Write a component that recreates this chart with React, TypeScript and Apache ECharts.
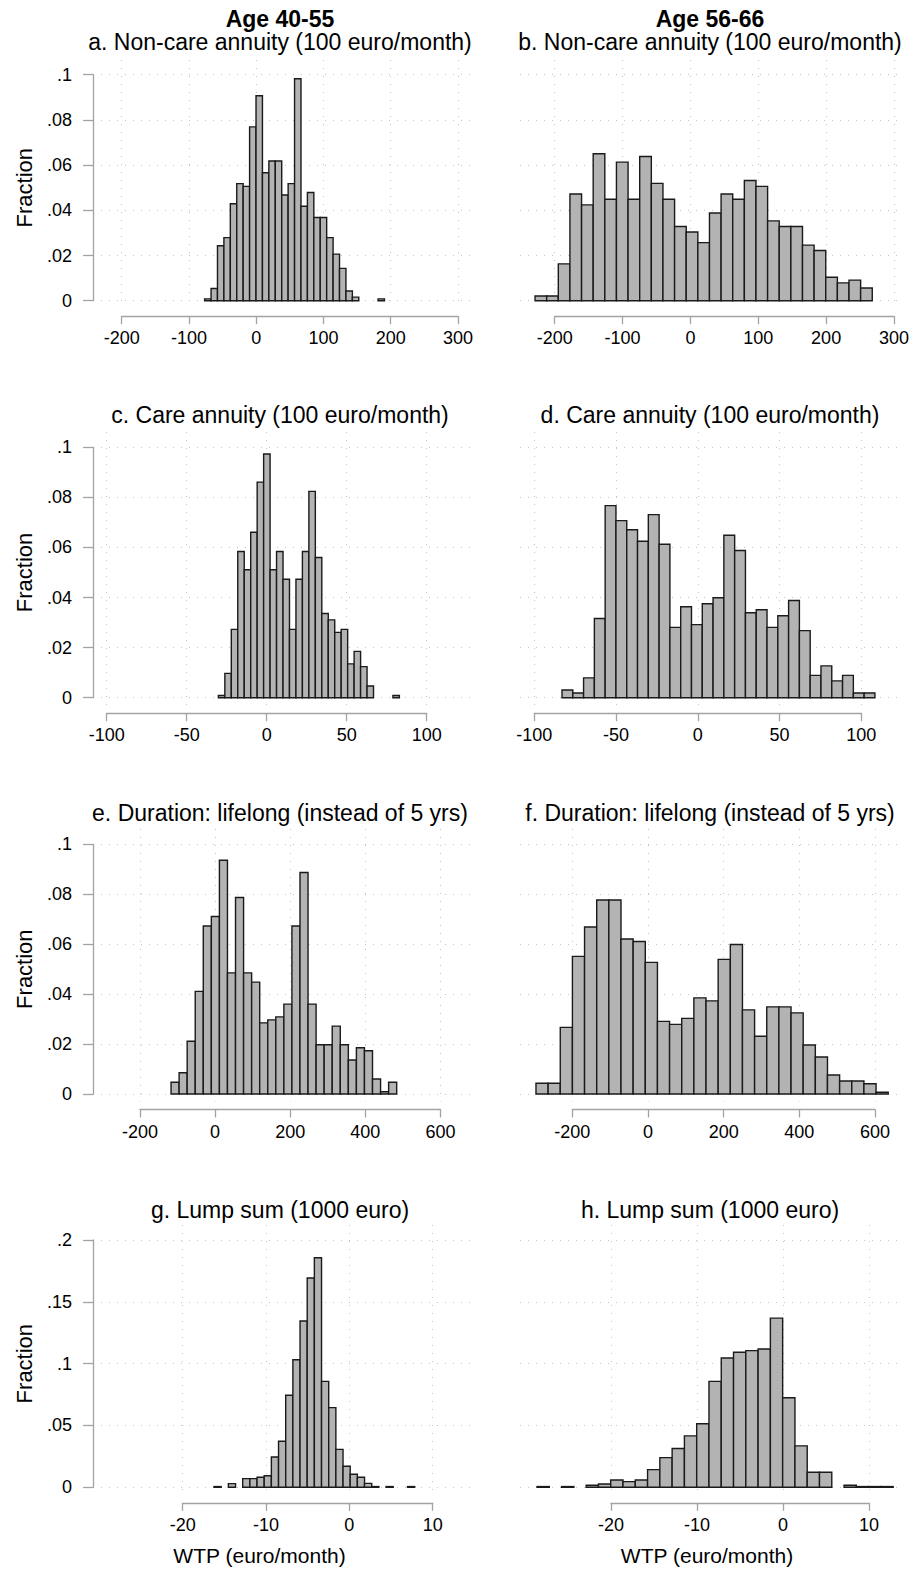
import React, { useEffect, useRef } from "react";
import * as echarts from "echarts";

// ---- Histogram data: left edge of the first bin, bin width, fraction per bin ----
const aStart = -76.7;
const aWidth = 9.55;
const aFractions = [
  0.0008, 0.0054, 0.0243, 0.0279, 0.0429, 0.0518, 0.0506, 0.0769, 0.0907, 0.0566,
  0.0618, 0.0618, 0.0468, 0.0518, 0.0982, 0.0418, 0.0479, 0.0368, 0.0368, 0.0279,
  0.0206, 0.0143, 0.0043, 0.0016, 0, 0, 0, 0.0008,
];

const bStart = -228.9;
const bWidth = 17.1;
const bFractions = [
  0.0021, 0.0021, 0.0163, 0.0472, 0.0424, 0.065, 0.0449, 0.0613, 0.0449, 0.0638,
  0.0519, 0.0449, 0.0328, 0.0304, 0.0257, 0.0388, 0.0472, 0.0449, 0.0532, 0.0506,
  0.0353, 0.0328, 0.0328, 0.0246, 0.0222, 0.0104, 0.0079, 0.0091, 0.0056,
];

const cStart = -30.2;
const cWidth = 4.04;
const cFractions = [
  0.0009, 0.0097, 0.0273, 0.0584, 0.0511, 0.0661, 0.0861, 0.0973, 0.0511, 0.0584,
  0.0473, 0.0273, 0.0473, 0.0584, 0.0824, 0.056, 0.0336, 0.0311, 0.0261, 0.0273,
  0.0135, 0.0185, 0.0124, 0.0047, 0, 0, 0, 0.0009,
];

const dStart = -83.06;
const dWidth = 6.6;
const dFractions = [
  0.0031, 0.0019, 0.0079, 0.0316, 0.0767, 0.0707, 0.0671, 0.0625, 0.0731, 0.0613,
  0.0281, 0.0363, 0.0292, 0.0375, 0.0399, 0.0649, 0.0588, 0.0339, 0.0351, 0.0281,
  0.0327, 0.0388, 0.0268, 0.0089, 0.0127, 0.0067, 0.0089, 0.0019, 0.0019,
];

const eStart = -117.3;
const eWidth = 21.46;
const eFractions = [
  0.0047, 0.0085, 0.0211, 0.0411, 0.0673, 0.0711, 0.0936, 0.0485, 0.0787, 0.0485,
  0.0448, 0.0285, 0.0297, 0.0309, 0.036, 0.0673, 0.0887, 0.036, 0.0197, 0.0197,
  0.0272, 0.0197, 0.0136, 0.0185, 0.0173, 0.006, 0.0009, 0.0047,
];

const fStart = -296;
const fWidth = 32.1;
const fFractions = [
  0.0043, 0.0043, 0.0267, 0.0551, 0.0669, 0.0777, 0.0777, 0.0621, 0.0611, 0.0527,
  0.0291, 0.0279, 0.0303, 0.0385, 0.0373, 0.0539, 0.0599, 0.0337, 0.0231, 0.0349,
  0.0349, 0.0325, 0.0196, 0.0148, 0.0076, 0.0052, 0.0052, 0.0041, 0.0007,
];

const gStart = -16.24;
const gWidth = 0.86;
const gFractions = [
  0.0006, 0, 0.003, 0, 0.007, 0.007, 0.0081, 0.0094, 0.0245, 0.0372,
  0.0744, 0.1032, 0.1345, 0.1693, 0.1857, 0.0857, 0.0644, 0.0307, 0.017, 0.0105,
  0.0081, 0.0032, 0.0006, 0, 0.0006, 0, 0, 0.0006,
];

const hStart = -28.6;
const hWidth = 1.428;
const hFractions = [
  0.0006, 0, 0.0006, 0, 0.0016, 0.0027, 0.0059, 0.0046, 0.0059, 0.0143,
  0.024, 0.0314, 0.0416, 0.0514, 0.0857, 0.1046, 0.1092, 0.1105, 0.1119, 0.1368,
  0.0724, 0.0335, 0.0122, 0.0122, 0, 0.0016, 0.0006, 0.0006, 0.0006,
];

// ---- Axis ticks and labels ----
const annuityTicks = [-200, -100, 0, 100, 200, 300];
const careTicks = [-100, -50, 0, 50, 100];
const durationTicks = [-200, 0, 200, 400, 600];
const lumpTicks = [-20, -10, 0, 10];

const fractionTicks = [0, 0.02, 0.04, 0.06, 0.08, 0.1];
const fractionLabels = ["0", ".02", ".04", ".06", ".08", ".1"];
const lumpFractionTicks = [0, 0.05, 0.1, 0.15, 0.2];
const lumpFractionLabels = ["0", ".05", ".1", ".15", ".2"];

const columnHeaders = ["Age 40-55", "Age 56-66"];
const yTitle = "Fraction";
const xTitle = "WTP (euro/month)";

// ---- Layout (pixels) ----
const FONT = "'Liberation Sans', Arial, Helvetica, sans-serif";
const cols = [
  { plotLeft: 93, plotRight: 472, titleX: 280, xTitleX: 259.5 },
  { plotLeft: 520, plotRight: 898, titleX: 710, xTitleX: 707 },
];
const rows = [
  { zeroY: 300.7, topY: 74.7, plotTop: 60, subtitleY: 42 },
  { zeroY: 697.7, topY: 447.3, plotTop: 432, subtitleY: 415 },
  { zeroY: 1094, topY: 844.3, plotTop: 829, subtitleY: 813 },
  { zeroY: 1487.3, topY: 1240, plotTop: 1225, subtitleY: 1210 },
];

type Panel = {
  title: string;
  col: number;
  row: number;
  start: number;
  width: number;
  fractions: number[];
  xTicks: number[];
  xPx: [number, number];
  yTicks: number[];
  yLabels: string[];
};

const panels: Panel[] = [
  { title: "a. Non-care annuity (100 euro/month)", col: 0, row: 0, start: aStart, width: aWidth, fractions: aFractions, xTicks: annuityTicks, xPx: [121.7, 458.0], yTicks: fractionTicks, yLabels: fractionLabels },
  { title: "b. Non-care annuity (100 euro/month)", col: 1, row: 0, start: bStart, width: bWidth, fractions: bFractions, xTicks: annuityTicks, xPx: [554.7, 894.7], yTicks: fractionTicks, yLabels: fractionLabels },
  { title: "c. Care annuity (100 euro/month)", col: 0, row: 1, start: cStart, width: cWidth, fractions: cFractions, xTicks: careTicks, xPx: [106.7, 426.7], yTicks: fractionTicks, yLabels: fractionLabels },
  { title: "d. Care annuity (100 euro/month)", col: 1, row: 1, start: dStart, width: dWidth, fractions: dFractions, xTicks: careTicks, xPx: [534.3, 861.3], yTicks: fractionTicks, yLabels: fractionLabels },
  { title: "e. Duration: lifelong (instead of 5 yrs)", col: 0, row: 2, start: eStart, width: eWidth, fractions: eFractions, xTicks: durationTicks, xPx: [140, 440.4], yTicks: fractionTicks, yLabels: fractionLabels },
  { title: "f. Duration: lifelong (instead of 5 yrs)", col: 1, row: 2, start: fStart, width: fWidth, fractions: fFractions, xTicks: durationTicks, xPx: [572.3, 875], yTicks: fractionTicks, yLabels: fractionLabels },
  { title: "g. Lump sum (1000 euro)", col: 0, row: 3, start: gStart, width: gWidth, fractions: gFractions, xTicks: lumpTicks, xPx: [182.7, 432.7], yTicks: lumpFractionTicks, yLabels: lumpFractionLabels },
  { title: "h. Lump sum (1000 euro)", col: 1, row: 3, start: hStart, width: hWidth, fractions: hFractions, xTicks: lumpTicks, xPx: [611, 869], yTicks: lumpFractionTicks, yLabels: lumpFractionLabels },
];

const GRID_COLOR = "#c4c4c4";
const AXIS_COLOR = "#a3a3a3";
const BAR_FILL = "#b3b3b3";
const BAR_STROKE = "#1a1a1a";

function buildOption() {
  const grid: any[] = [];
  const xAxis: any[] = [];
  const yAxis: any[] = [];
  const series: any[] = [];
  const graphic: any[] = [];

  const dotted = { color: GRID_COLOR, width: 1, type: [1, 7] };

  panels.forEach((p) => {
    const c = cols[p.col];
    const r = rows[p.row];
    const plotBottom = r.zeroY + 7.5;
    const xMin = p.xTicks[0];
    const xMax = p.xTicks[p.xTicks.length - 1];
    const xStep = p.xTicks[1] - p.xTicks[0];
    const yMax = p.yTicks[p.yTicks.length - 1];
    const yStep = p.yTicks[1] - p.yTicks[0];
    const showY = p.col === 0;

    // horizontal gridlines + y axis
    const gC = grid.length;
    grid.push({ left: c.plotLeft, width: c.plotRight - c.plotLeft, top: r.topY, height: r.zeroY - r.topY, containLabel: false });
    xAxis.push({ gridIndex: gC, type: "value", min: 0, max: 1, show: false });
    yAxis.push({
      gridIndex: gC,
      type: "value",
      min: 0,
      max: yMax,
      interval: yStep,
      offset: 6,
      axisLine: { show: showY, lineStyle: { color: AXIS_COLOR, width: 1.3 } },
      axisTick: { show: showY, length: 10, lineStyle: { color: AXIS_COLOR, width: 1.3 } },
      axisLabel: {
        show: showY,
        margin: 15,
        color: "#000",
        fontSize: 18,
        fontFamily: FONT,
        formatter: (v: number) => {
          let best = 0;
          p.yTicks.forEach((t, i) => {
            if (Math.abs(t - v) < Math.abs(p.yTicks[best] - v)) best = i;
          });
          return p.yLabels[best];
        },
      },
      splitLine: { show: true, lineStyle: dotted },
    });

    // vertical gridlines + x axis
    const gB = grid.length;
    grid.push({ left: p.xPx[0], width: p.xPx[1] - p.xPx[0], top: r.plotTop, height: plotBottom - r.plotTop, containLabel: false });
    xAxis.push({
      gridIndex: gB,
      type: "value",
      min: xMin,
      max: xMax,
      interval: xStep,
      offset: 8,
      axisLine: { show: true, onZero: false, lineStyle: { color: AXIS_COLOR, width: 1.3 } },
      axisTick: { show: true, length: 8, lineStyle: { color: AXIS_COLOR, width: 1.3 } },
      axisLabel: { margin: 13, color: "#000", fontSize: 18, fontFamily: FONT, showMinLabel: true, showMaxLabel: true },
      splitLine: { show: true, lineStyle: dotted },
    });
    yAxis.push({ gridIndex: gB, type: "value", min: 0, max: 1, show: false });

    // histogram bars on the tick ranges
    const gA = grid.length;
    grid.push({ left: p.xPx[0], width: p.xPx[1] - p.xPx[0], top: r.topY, height: r.zeroY - r.topY, containLabel: false });
    const xa = xAxis.length;
    xAxis.push({ gridIndex: gA, type: "value", min: xMin, max: xMax, show: false });
    const ya = yAxis.length;
    yAxis.push({ gridIndex: gA, type: "value", min: 0, max: yMax, show: false });

    const data = p.fractions
      .map((f, i) => [p.start + i * p.width, p.start + (i + 1) * p.width, f])
      .filter((d) => d[2] > 0);

    series.push({
      type: "custom",
      xAxisIndex: xa,
      yAxisIndex: ya,
      clip: false,
      z: 5,
      encode: { x: [0, 1], y: 2 },
      data,
      renderItem: (params: any, api: any) => {
        const x0 = api.value(0);
        const x1 = api.value(1);
        const y = api.value(2);
        const p0 = api.coord([x0, y]);
        const p1 = api.coord([x1, 0]);
        return {
          type: "rect",
          shape: { x: p0[0], y: p0[1], width: p1[0] - p0[0], height: p1[1] - p0[1] },
          style: { fill: BAR_FILL, stroke: BAR_STROKE, lineWidth: 1.4 },
        };
      },
    });

    // panel subtitle
    graphic.push({
      type: "text",
      x: c.titleX,
      y: r.subtitleY,
      style: { text: p.title, fill: "#000", fontSize: 23, fontFamily: FONT, align: "center", verticalAlign: "middle" },
    });

    if (showY) {
      graphic.push({
        type: "text",
        x: 24,
        y: (r.zeroY + r.topY) / 2,
        rotation: Math.PI / 2,
        style: { text: yTitle, fill: "#000", fontSize: 22, fontFamily: FONT, align: "center", verticalAlign: "middle" },
      });
    }
  });

  columnHeaders.forEach((h, i) => {
    graphic.push({
      type: "text",
      x: cols[i].titleX,
      y: 19,
      style: { text: h, fill: "#000", fontSize: 23, fontWeight: "bold", fontFamily: FONT, align: "center", verticalAlign: "middle" },
    });
    graphic.push({
      type: "text",
      x: cols[i].xTitleX,
      y: 1555,
      style: { text: xTitle, fill: "#000", fontSize: 21, fontFamily: FONT, align: "center", verticalAlign: "middle" },
    });
  });

  return {
    animation: false,
    backgroundColor: "#fff",
    grid,
    xAxis,
    yAxis,
    series,
    graphic,
  };
}

export default function App() {
  const ref = useRef<HTMLDivElement>(null);
  useEffect(() => {
    if (!ref.current) return;
    const chart = echarts.init(ref.current, undefined, { renderer: "svg" });
    chart.setOption(buildOption());
    return () => chart.dispose();
  }, []);
  return (
    <div
      ref={ref}
      style={{ position: "absolute", left: 0, top: 0, width: 912, height: 1569, background: "#fff" }}
    />
  );
}
